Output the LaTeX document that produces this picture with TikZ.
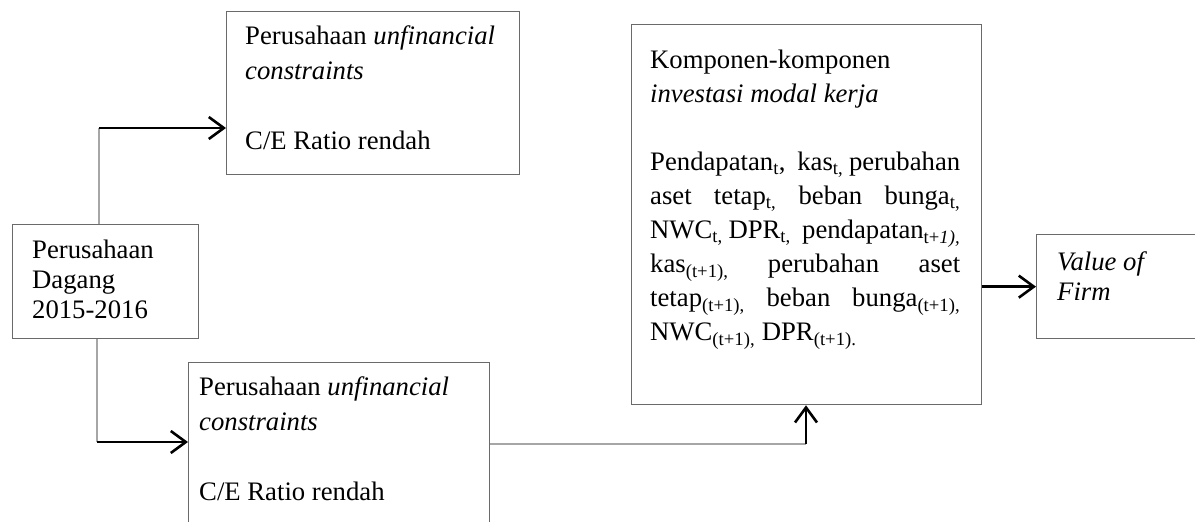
\documentclass[tikz,border=0pt]{standalone}
\usepackage{fontspec}
\setmainfont{Liberation Serif}
\usetikzlibrary{arrows.meta}
\definecolor{boxgray}{HTML}{6A6A6A}
\definecolor{feedgray}{HTML}{A6A6A6}
\begin{document}
\begin{tikzpicture}[x=1pt,y=-1pt,
  box/.style={draw=boxgray, line width=1.3pt, inner sep=0pt, anchor=north west},
  txt/.style={anchor=north west, inner sep=0pt, align=left, font=\fontsize{26.7}{35}\selectfont},
  feed/.style={draw=feedgray, line width=1.5pt},
  arr/.style={draw=black, line width=2.8pt, -{Straight Barb[length=15pt,width=22pt,line width=2.6pt]}}]
\useasboundingbox (0,0) rectangle (1195,522);
\clip (0,0) rectangle (1195,522);
% boxes
\node[box, minimum width=293pt, minimum height=163pt] (top) at (226,11) {};
\node[box, minimum width=186pt, minimum height=114pt] (left) at (12,224) {};
\node[box, minimum width=301pt, minimum height=163pt] (bot) at (188,362) {};
\node[box, minimum width=350pt, minimum height=380pt] (right) at (631,24) {};
\node[box, minimum width=180pt, minimum height=104pt] (val) at (1036,234) {};
% texts
\node[txt] (toptxt) at (245,25) {Perusahaan \textit{unfinancial}\\\textit{constraints}\\[35pt]C/E Ratio rendah};
\node[txt] (bottxt) at (199,376) {Perusahaan \textit{unfinancial}\\\textit{constraints}\\[35pt]C/E Ratio rendah};
\node[txt, font=\fontsize{26.7}{30}\selectfont] (lefttxt) at (32,240) {Perusahaan\\Dagang\\2015-2016};
\node[txt, font=\fontsize{26.7}{30}\selectfont] (valtxt) at (1057,251) {\textit{Value of}\\\textit{Firm}};
\node[txt, text width=310pt, align=justify, font=\fontsize{26.7}{34}\selectfont] (righttxt) at (650,50) {\hyphenpenalty=10000\parindent=0pt
Komponen-komponen\newline\textit{investasi modal kerja}\par\vspace{34pt}
Pendapatan\textsubscript{t}, \ kas\textsubscript{t,} perubahan\linebreak
aset tetap\textsubscript{t,} beban bunga\textsubscript{t,}\linebreak
NWC\textsubscript{t,} DPR\textsubscript{t,} \ pendapatan\textsubscript{t+\textit{1),}}\linebreak
kas\textsubscript{(t+1),} perubahan aset\linebreak
tetap\textsubscript{(t+1),} beban bunga\textsubscript{(t+1),}\linebreak
NWC\textsubscript{(t+1),} DPR\textsubscript{(t+1).}};
% connectors
\coordinate (ja) at (99,128);
\coordinate (jb) at (97,442);
\coordinate (jc) at (806,444);
\draw[feed] (ja |- left.north) -- (ja);
\draw[arr] (ja) -- (ja -| top.west);
\draw[feed] (jb |- left.south) -- (jb);
\draw[arr] (jb) -- (jb -| bot.west);
\draw[feed] (bot.east |- jc) -- (jc);
\draw[arr] (jc) -- (jc |- right.south);
\draw[arr] (right.east |- val.west) -- (val.west);
\end{tikzpicture}
\end{document}
